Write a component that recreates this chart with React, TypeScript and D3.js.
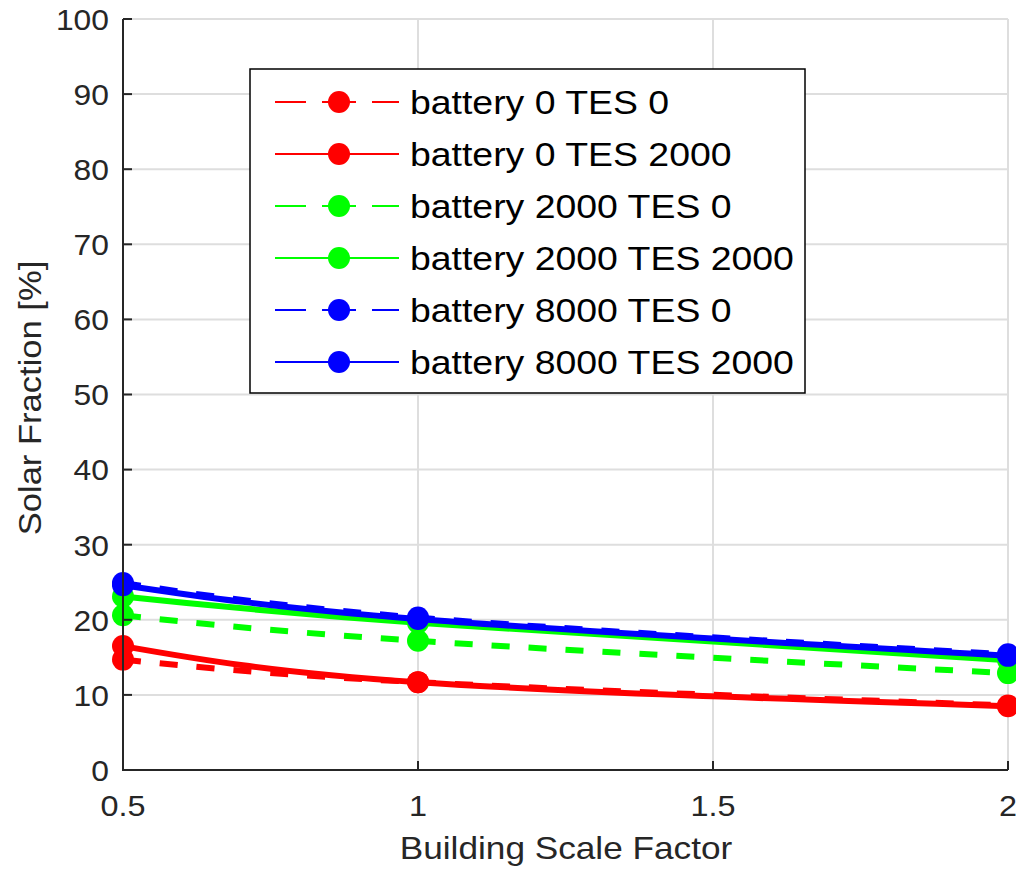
import React, { useEffect, useRef } from "react";
import * as d3 from "d3";

// Building scale factors at which the system was simulated
const scaleFactors = [0.5, 1, 2];

// Solar fraction [%] per storage configuration
const b0Tes0 = [14.7, 11.7, 8.6];
const b0Tes2000 = [16.5, 11.7, 8.5];
const b2000Tes0 = [20.6, 17.2, 12.9];
const b2000Tes2000 = [23.1, 19.6, 14.6];
const b8000Tes0 = [24.9, 20.3, 15.4];
const b8000Tes2000 = [24.6, 20.1, 15.2];

const seriesNames = [
  "battery 0 TES 0",
  "battery 0 TES 2000",
  "battery 2000 TES 0",
  "battery 2000 TES 2000",
  "battery 8000 TES 0",
  "battery 8000 TES 2000",
];
const seriesValues = [b0Tes0, b0Tes2000, b2000Tes0, b2000Tes2000, b8000Tes0, b8000Tes2000];
const seriesColors = ["#ff0000", "#ff0000", "#00ff00", "#00ff00", "#0000ff", "#0000ff"];
const seriesDashed = [true, false, true, false, true, false];

const xTicks = [0.5, 1, 1.5, 2];
const xTickLabels = ["0.5", "1", "1.5", "2"];
const yTicks = [0, 10, 20, 30, 40, 50, 60, 70, 80, 90, 100];

const W = 1016;
const H = 869;
const FONT = "'Liberation Sans', Arial, Helvetica, sans-serif";

type Sel = d3.Selection<SVGGElement, unknown, null, undefined>;

// Text with a slightly widened Helvetica-like look
function addText(
  parent: Sel,
  x: number,
  y: number,
  str: string,
  opts: { size: number; anchor?: string; fill?: string; rotate?: number; sx?: number; dy?: string }
) {
  const rot = opts.rotate ? ` rotate(${opts.rotate})` : "";
  parent
    .append("text")
    .attr("transform", `translate(${x},${y})${rot} scale(${opts.sx ?? 1.1},1)`)
    .attr("dy", opts.dy ?? null)
    .attr("text-anchor", opts.anchor ?? "start")
    .attr("font-family", FONT)
    .attr("font-size", opts.size)
    .attr("fill", opts.fill ?? "#262626")
    .text(str);
}

export default function App() {
  const ref = useRef<SVGSVGElement | null>(null);

  useEffect(() => {
    const svg = d3.select(ref.current);
    svg.selectAll("*").remove();

    const x = d3.scaleLinear().domain([0.5, 2]).range([123, 1008]);
    const y = d3.scaleLinear().domain([0, 100]).range([770, 19]);

    // grid
    const grid = svg.append("g");
    grid
      .selectAll("line.h")
      .data(yTicks)
      .join("line")
      .attr("x1", x(0.5))
      .attr("x2", x(2))
      .attr("y1", (d) => y(d))
      .attr("y2", (d) => y(d))
      .attr("stroke", "#dedede")
      .attr("stroke-width", 2);
    grid
      .selectAll("line.v")
      .data(xTicks.slice(1))
      .join("line")
      .attr("x1", (d) => x(d))
      .attr("x2", (d) => x(d))
      .attr("y1", y(0))
      .attr("y2", y(100))
      .attr("stroke", "#dedede")
      .attr("stroke-width", 2);

    // data lines
    const line = d3
      .line<number>()
      .x((_, i) => x(scaleFactors[i]))
      .y((d) => y(d))
      .curve(d3.curveNatural);

    seriesValues.forEach((vals, si) => {
      const g = svg.append("g");
      g.append("path")
        .attr("d", line(vals))
        .attr("fill", "none")
        .attr("stroke", seriesColors[si])
        .attr("stroke-width", 6)
        .attr("stroke-dasharray", seriesDashed[si] ? "18 19" : null);
      g.selectAll("circle")
        .data(vals)
        .join("circle")
        .attr("cx", (_, i) => x(scaleFactors[i]))
        .attr("cy", (d) => y(d))
        .attr("r", 11)
        .attr("fill", seriesColors[si]);
    });

    // axes
    const axisColor = "#262626";
    const axes = svg.append("g") as Sel;
    axes
      .append("path")
      .attr("d", `M${x(0.5)},${y(100)}V${y(0)}H${x(2)}`)
      .attr("fill", "none")
      .attr("stroke", axisColor)
      .attr("stroke-width", 2);
    yTicks.forEach((t) => {
      axes
        .append("line")
        .attr("x1", x(0.5))
        .attr("x2", x(0.5) + 9)
        .attr("y1", y(t))
        .attr("y2", y(t))
        .attr("stroke", axisColor)
        .attr("stroke-width", 2);
      addText(axes, 109, y(t), String(t), { size: 30, anchor: "end", dy: "0.36em", sx: 1.06 });
    });
    xTicks.forEach((t, i) => {
      axes
        .append("line")
        .attr("x1", x(t))
        .attr("x2", x(t))
        .attr("y1", y(0))
        .attr("y2", y(0) - 9)
        .attr("stroke", axisColor)
        .attr("stroke-width", 2);
      addText(axes, x(t), 816, xTickLabels[i], { size: 30, anchor: "middle", sx: 1.08 });
    });

    addText(axes, 566, 859, "Building Scale Factor", { size: 32, anchor: "middle", sx: 1.1 });
    addText(axes, 41, 398, "Solar Fraction [%]", { size: 32, anchor: "middle", rotate: -90, sx: 1.08 });

    // legend
    const lg = svg.append("g") as Sel;
    lg.append("rect")
      .attr("x", 250)
      .attr("y", 69)
      .attr("width", 555)
      .attr("height", 324)
      .attr("fill", "#ffffff")
      .attr("stroke", "#000000")
      .attr("stroke-width", 1.5);
    seriesNames.forEach((name, si) => {
      const cy = 102 + si * 52;
      const segs = seriesDashed[si]
        ? [
            [275, 306],
            [322, 356],
            [372, 399],
          ]
        : [[275, 399]];
      segs.forEach(([a, b]) => {
        lg.append("line")
          .attr("x1", a)
          .attr("x2", b)
          .attr("y1", cy)
          .attr("y2", cy)
          .attr("stroke", seriesColors[si])
          .attr("stroke-width", 2);
      });
      lg.append("circle")
        .attr("cx", 339)
        .attr("cy", cy)
        .attr("r", 11)
        .attr("fill", seriesColors[si]);
      addText(lg, 410, cy, name, { size: 34, dy: "0.36em", fill: "#000000", sx: 1.1 });
    });
  }, []);

  return (
    <svg
      ref={ref}
      width={W}
      height={H}
      style={{ position: "absolute", left: 0, top: 0, background: "#ffffff" }}
    />
  );
}
